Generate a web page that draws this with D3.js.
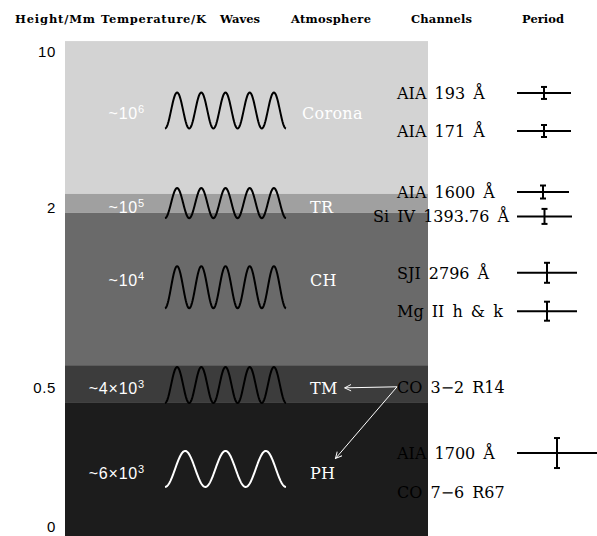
<!DOCTYPE html>
<html>
<head>
<meta charset="utf-8">
<script src="https://cdn.jsdelivr.net/npm/d3@7"></script>
<style>
  body { margin: 0; background: #fff; }
  svg { display: block; }
</style>
</head>
<body>
<div id="chart"></div>
<script>
// column headers
var headers = ["Height/Mm", "Temperature/K", "Waves", "Atmosphere", "Channels", "Period"];

// height axis (Mm)
var heightTicks = [10, 2, 0.5, 0];

// atmospheric layers, top to bottom
var layerNames = ["Corona", "TR", "CH", "TM", "PH"];
var tempMant = ["", "", "", "4\u00d7", "6\u00d7"];
var tempExp = [6, 5, 4, 3, 3];
var layerTop = [10.56, 2.72, 1.96, 0.69, 0.45];
var layerBottom = [2.72, 1.96, 0.69, 0.45, -0.05];
var waveRow = [7.0, 2.25, 1.34, 0.525, 0.215];
var labelRow = [6.87, 2.05, 1.4, 0.5, 0.2];
var waveCycles = [5, 5, 5, 5, 3];

// observing channels
var channelNames = ["AIA 193 \u00c5", "AIA 171 \u00c5", "AIA 1600 \u00c5", "Si IV 1393.76 \u00c5",
  "SJI 2796 \u00c5", "Mg II h & k", "CO 3\u22122 R14", "AIA 1700 \u00c5", "CO 7\u22126 R67"];
var channelRow = [7.9, 5.95, 2.82, 1.93, 1.46, 1.14, 0.51, 0.271, 0.134];
var periodMin = [2.7, 2.7, 2.6, 2.75, 3.0, 3.0, null, 4.0, null];
var periodErr = [0.6, 0.6, 0.65, 0.75, 1.0, 0.95, null, 1.5, null];

// CO 3-2 R14 points at TM and PH
var arrowFrom = 6;
var arrowTo = [3, 4];

// styles
var layerFill = ["#d3d3d3", "#a0a0a0", "#6a6a6a", "#3c3c3c", "#1c1c1c"];
var waveColor = ["#000", "#000", "#000", "#000", "#fff"];
var waveAmp = [18, 15, 21, 18, 18];

var width = 597, height = 536;
var headerX = [15, 101, 220, 291, 411, 522];
var headerW = [80, 105, 40, 80, 61, 42];
var panelX0 = 65, panelX1 = 428;
var tempX = 145, atmX = 310, chanX = 397;

var svg = d3.select("#chart").append("svg")
    .attr("width", width)
    .attr("height", height);

var defs = svg.append("defs");
defs.append("marker")
    .attr("id", "head")
    .attr("viewBox", "0 0 10 10")
    .attr("refX", 9).attr("refY", 5)
    .attr("markerWidth", 8).attr("markerHeight", 8)
    .attr("markerUnits", "userSpaceOnUse")
    .attr("orient", "auto")
  .append("path")
    .attr("d", "M1,1 L9,5 L1,9")
    .attr("fill", "none")
    .attr("stroke", "#fff")
    .attr("stroke-width", 1.2);

// piecewise height scale
var y = d3.scaleLinear()
    .domain([0, 0.5, 2, 10])
    .range([530, 388, 208, 52]);

// layers
svg.selectAll("rect.layer")
    .data(layerNames)
    .enter().append("rect")
    .attr("class", "layer")
    .attr("x", panelX0)
    .attr("width", panelX1 - panelX0)
    .attr("y", (d, i) => y(layerTop[i]))
    .attr("height", (d, i) => y(layerBottom[i]) - y(layerTop[i]))
    .attr("fill", (d, i) => layerFill[i]);

// headers
svg.selectAll("text.header")
    .data(headers)
    .enter().append("text")
    .attr("class", "header")
    .attr("x", (d, i) => headerX[i])
    .attr("y", 23)
    .attr("textLength", (d, i) => headerW[i])
    .attr("lengthAdjust", "spacing")
    .style("font-family", "DejaVu Serif")
    .style("font-size", "11.5px")
    .style("font-weight", "bold")
    .text(d => d);

// height ticks
svg.selectAll("text.tick")
    .data(heightTicks)
    .enter().append("text")
    .attr("class", "tick")
    .attr("x", 56)
    .attr("y", d => Math.min(y(d), height - 9))
    .attr("dy", "0.36em")
    .attr("text-anchor", "end")
    .style("font-family", "Liberation Sans")
    .style("font-size", "15px")
    .style("letter-spacing", "0.6px")
    .text(d => d);

// temperatures
var temp = svg.selectAll("text.temp")
    .data(layerNames)
    .enter().append("text")
    .attr("class", "temp")
    .attr("x", tempX)
    .attr("y", (d, i) => y(labelRow[i]))
    .attr("dy", "0.36em")
    .attr("text-anchor", "end")
    .attr("fill", "#fff")
    .style("font-family", "Liberation Sans")
    .style("font-size", "16px")
    .style("letter-spacing", "0.8px");
temp.append("tspan").text((d, i) => "~" + tempMant[i] + "10");
temp.append("tspan")
    .attr("dy", "-0.5em")
    .style("font-size", "11px")
    .text((d, i) => tempExp[i]);

// waves
var xWave = d3.scaleLinear().domain([0, 1]).range([165, 286]);
var line = d3.line().x(d => d[0]).y(d => d[1]);
svg.selectAll("path.wave")
    .data(layerNames)
    .enter().append("path")
    .attr("class", "wave")
    .attr("fill", "none")
    .attr("stroke", (d, i) => waveColor[i])
    .attr("stroke-width", 2)
    .attr("d", function(d, i) {
      var pts = d3.range(0, 1.0001, 0.004).map(t =>
        [xWave(t), y(waveRow[i]) + waveAmp[i] * Math.cos(2 * Math.PI * waveCycles[i] * t)]);
      return line(pts);
    });

// atmosphere labels
var atm = svg.selectAll("text.atm")
    .data(layerNames)
    .enter().append("text")
    .attr("class", "atm")
    .attr("x", (d, i) => i == 0 ? atmX - 8 : atmX)
    .attr("y", (d, i) => y(labelRow[i]))
    .attr("dy", "0.36em")
    .attr("fill", "#fff")
    .style("font-family", "DejaVu Serif")
    .style("font-size", "16px")
    .style("letter-spacing", "0.3px")
    .text(d => d);

// channels
var chan = svg.selectAll("text.chan")
    .data(channelNames)
    .enter().append("text")
    .attr("class", "chan")
    .attr("x", chanX)
    .attr("y", (d, i) => y(channelRow[i]))
    .attr("dy", "0.36em")
    .style("font-family", "DejaVu Serif")
    .style("font-size", "16px")
    .style("word-spacing", "3px")
    .text(d => d);
// keep long names clear of the period marks
chan.each(function() {
  var w = this.getComputedTextLength();
  if (chanX + w > 509) d3.select(this).attr("x", 509 - w);
});

// arrows
var src = [chanX, y(channelRow[arrowFrom])];
atm.filter((d, i) => arrowTo.indexOf(i) >= 0).each(function(d) {
  var b = this.getBBox();
  var cx = b.x + b.width / 2, cy = b.y + b.height / 2;
  var dx = src[0] - cx, dy = src[1] - cy, len = Math.hypot(dx, dy);
  var r = b.width / 2 + 7;
  svg.append("line")
      .attr("x1", src[0]).attr("y1", src[1])
      .attr("x2", cx + dx / len * r).attr("y2", cy + dy / len * r)
      .attr("stroke", "#fff")
      .attr("stroke-width", 1)
      .attr("marker-end", "url(#head)");
});

// period marks
var xp = d3.scaleLinear().domain([0, 1]).range([517, 527]);
var ep = d3.scaleLinear().domain([0, 1]).range([0, 10]);
var rows = d3.range(channelNames.length).filter(i => periodMin[i] != null);
var pm = svg.selectAll("g.period")
    .data(rows)
    .enter().append("g")
    .attr("class", "period")
    .attr("stroke", "#000")
    .attr("stroke-width", 2);
pm.append("line")
    .attr("x1", xp(0))
    .attr("x2", i => xp(2 * periodMin[i]))
    .attr("y1", i => y(channelRow[i]))
    .attr("y2", i => y(channelRow[i]));
pm.append("line")
    .attr("x1", i => xp(periodMin[i]))
    .attr("x2", i => xp(periodMin[i]))
    .attr("y1", i => y(channelRow[i]) - ep(periodErr[i]))
    .attr("y2", i => y(channelRow[i]) + ep(periodErr[i]));
pm.selectAll("line.cap")
    .data(i => [[i, -1], [i, 1]])
    .enter().append("line")
    .attr("class", "cap")
    .attr("x1", d => xp(periodMin[d[0]]) - 3)
    .attr("x2", d => xp(periodMin[d[0]]) + 3)
    .attr("y1", d => y(channelRow[d[0]]) + d[1] * ep(periodErr[d[0]]))
    .attr("y2", d => y(channelRow[d[0]]) + d[1] * ep(periodErr[d[0]]));
</script>
</body>
</html>
